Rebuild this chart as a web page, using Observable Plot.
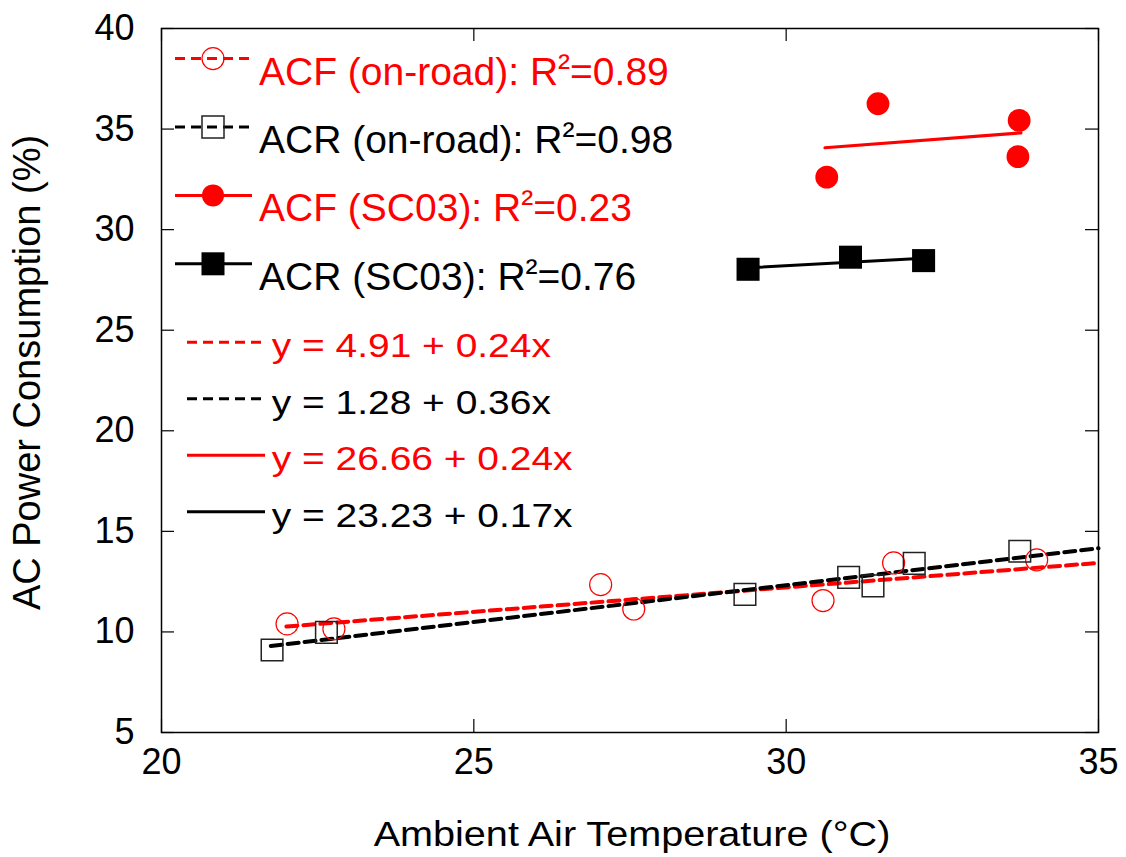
<!DOCTYPE html>
<html>
<head>
<meta charset="utf-8">
<script src="https://cdn.jsdelivr.net/npm/d3@7"></script>
<script src="https://cdn.jsdelivr.net/npm/@observablehq/plot@0.6"></script>
<style>
html, body { margin: 0; padding: 0; background: #fff; }
#chart svg { display: block; }
</style>
</head>
<body>
<div id="chart"></div>
<script>
// ---------- data ----------
const xTicks = [20, 25, 30, 35];
const yTicks = [5, 10, 15, 20, 25, 30, 35, 40];

// ACF on-road (open red circles)
const acfRoadT = [22.01, 22.76, 27.03, 27.56, 30.59, 31.72, 34.01];
const acfRoadP = [10.40, 10.15, 12.35, 11.14, 11.56, 13.43, 13.58];
// ACR on-road (open black squares)
const acrRoadT = [21.77, 22.64, 29.34, 31.00, 31.39, 32.05, 33.74];
const acrRoadP = [9.10, 9.98, 11.87, 12.71, 12.29, 13.41, 14.01];
// ACF SC03 (filled red circles)
const acfScT = [30.65, 31.47, 33.73, 33.71];
const acfScP = [32.61, 36.26, 35.43, 33.63];
// ACR SC03 (filled black squares)
const acrScT = [29.39, 31.03, 32.20];
const acrScP = [28.03, 28.63, 28.46];

// fitted lines, end points as drawn in the reference
const acfRoadFitT = [22.0, 35.0];
const acfRoadFitP = [10.27, 13.43];
const acrRoadFitT = [21.75, 35.0];
const acrRoadFitP = [9.30, 14.16];
const acfScFitT = [30.62, 33.76];
const acfScFitP = [34.07, 34.81];
const acrScFitT = [29.39, 32.20];
const acrScFitP = [28.10, 28.58];

const seriesLabels = [
  "ACF (on-road): R\u00b2=0.89",
  "ACR (on-road): R\u00b2=0.98",
  "ACF (SC03): R\u00b2=0.23",
  "ACR (SC03): R\u00b2=0.76"
];
const equationLabels = [
  "y = 4.91 + 0.24x",
  "y = 1.28 + 0.36x",
  "y = 26.66 + 0.24x",
  "y = 23.23 + 0.17x"
];
const xTitle = "Ambient Air Temperature (\u00b0C)";
const yTitle = "AC Power Consumption (%)";

// ---------- layout & style ----------
const W = 1126, H = 857;
const mL = 161, mR = 28, mT = 28, mB = 125;
const plotW = W - mL - mR, plotH = H - mT - mB;
const RED = "#ff0000", BLACK = "#000000";
const FONT = "'Liberation Sans', Arial, Helvetica, sans-serif";
const TICK = 13;

const rows = (T, P) => T.map((t, i) => ({t, p: P[i]}));

const chart = Plot.plot({
  width: W,
  height: H,
  marginLeft: mL,
  marginRight: mR,
  marginTop: mT,
  marginBottom: mB,
  style: {fontFamily: FONT, background: "#fff", color: "#000", overflow: "visible"},
  x: {domain: [20, 35]},
  y: {domain: [5, 40]},
  marks: [
    Plot.line(rows(acfRoadFitT, acfRoadFitP), {x: "t", y: "p", stroke: RED, strokeWidth: 4, strokeDasharray: "11,6"}),
    Plot.line(rows(acrRoadFitT, acrRoadFitP), {x: "t", y: "p", stroke: BLACK, strokeWidth: 4, strokeDasharray: "11,6"}),
    Plot.line(rows(acfScFitT, acfScFitP), {x: "t", y: "p", stroke: RED, strokeWidth: 3}),
    Plot.line(rows(acrScFitT, acrScFitP), {x: "t", y: "p", stroke: BLACK, strokeWidth: 3}),
    Plot.dot(rows(acfRoadT, acfRoadP), {x: "t", y: "p", r: 11, stroke: RED, strokeWidth: 1.2, fill: "none"}),
    Plot.dot(rows(acrRoadT, acrRoadP), {x: "t", y: "p", symbol: "square", r: 12.2, stroke: "#222", strokeWidth: 1.5, fill: "none"}),
    Plot.dot(rows(acfScT, acfScP), {x: "t", y: "p", r: 11.4, fill: RED, stroke: "none"}),
    Plot.dot(rows(acrScT, acrScP), {x: "t", y: "p", symbol: "square", r: 13, fill: BLACK, stroke: "none"}),
    Plot.frame({stroke: BLACK, strokeWidth: 1.5}),
    Plot.tickX(xTicks, {x: d => d, insetTop: plotH - TICK, stroke: BLACK, strokeWidth: 1.2}),
    Plot.tickX(xTicks, {x: d => d, insetBottom: plotH - TICK, stroke: BLACK, strokeWidth: 1.2}),
    Plot.tickY(yTicks, {y: d => d, insetRight: plotW - TICK, stroke: BLACK, strokeWidth: 1.2}),
    Plot.tickY(yTicks, {y: d => d, insetLeft: plotW - TICK, stroke: BLACK, strokeWidth: 1.2}),
    Plot.axisX({ticks: xTicks, tickSize: 0, tickPadding: 16, fontSize: 36, label: null, tickFormat: d => String(d)}),
    Plot.axisY({ticks: yTicks, tickSize: 0, tickPadding: 27, fontSize: 36, label: null, tickFormat: d => String(d)}),
    Plot.text([xTitle], {text: d => d, frameAnchor: "bottom", textAnchor: "middle", lineAnchor: "bottom", dy: 113, dx: 2, fontSize: 36}),
    Plot.text([yTitle], {text: d => d, frameAnchor: "left", textAnchor: "middle", lineAnchor: "bottom", rotate: -90, dx: -122, dy: -8, fontSize: 38})
  ]
});
document.getElementById("chart").appendChild(chart);

// horizontal stretch helper (the reference's x title is drawn wider)
function stretchText(content, k) {
  d3.select(chart).selectAll("text").filter(function () { return this.textContent === content; }).each(function () {
    const el = this;
    let t = el.getAttribute("transform") || "";
    if (el.hasAttribute("x") || el.hasAttribute("y")) {
      const x = +el.getAttribute("x") || 0, y = +el.getAttribute("y") || 0;
      el.removeAttribute("x"); el.removeAttribute("y");
      t = `translate(${x},${y}) ` + t;
    }
    el.setAttribute("transform", t + ` scale(${k},1)`);
  });
}
stretchText(xTitle, 1.1);

// ---------- in-plot legend ----------
const svg = d3.select(chart);
const leg = svg.append("g").attr("font-family", FONT).attr("text-anchor", "start");
const seriesStyle = [
  {color: RED, dash: "10,6", marker: "circle", filled: false},
  {color: BLACK, dash: "10,6", marker: "square", filled: false},
  {color: RED, dash: null, marker: "circle", filled: true},
  {color: BLACK, dash: null, marker: "square", filled: true}
];
const legTop = 58.6, legStep = 68.4;
const legX0 = 175, legX1 = 252, legMarkX = 213, legTextX = 259;
const SUP_RAISE = 6;
seriesLabels.forEach((label, i) => {
  const s = seriesStyle[i];
  const y = legTop + i * legStep;
  leg.append("line")
    .attr("x1", legX0).attr("x2", legX1).attr("y1", y).attr("y2", y)
    .attr("stroke", s.color).attr("stroke-width", 3)
    .attr("stroke-dasharray", s.dash);
  if (s.marker === "circle") {
    leg.append("circle").attr("cx", legMarkX).attr("cy", y).attr("r", 11)
      .attr("fill", s.filled ? s.color : "none")
      .attr("stroke", s.filled ? "none" : s.color).attr("stroke-width", 1.2);
  } else {
    const side = s.filled ? 23 : 22;
    leg.append("rect").attr("x", legMarkX - side / 2).attr("y", y - side / 2)
      .attr("width", side).attr("height", side)
      .attr("fill", s.filled ? s.color : "none")
      .attr("stroke", s.filled ? "none" : "#222").attr("stroke-width", 1.5);
  }
  const t = leg.append("text").attr("x", legTextX).attr("y", y + 26)
    .attr("text-anchor", "start")
    .attr("font-size", 39).attr("fill", s.color);
  const [pre, post] = label.split("\u00b2");
  t.append("tspan").text(pre);
  t.append("tspan").attr("dy", -SUP_RAISE).attr("font-size", 36).text("\u00b2");
  t.append("tspan").attr("dy", SUP_RAISE).text(post);
});

const eqStyle = [
  {color: RED, dash: "10,6"},
  {color: BLACK, dash: "10,6"},
  {color: RED, dash: null},
  {color: BLACK, dash: null}
];
const eqTop = 342.3, eqStep = 56.5;
const eqX0 = 187, eqX1 = 265, eqTextX = 271.7;
equationLabels.forEach((label, i) => {
  const s = eqStyle[i];
  const y = eqTop + i * eqStep;
  leg.append("line")
    .attr("x1", eqX0).attr("x2", eqX1).attr("y1", y).attr("y2", y)
    .attr("stroke", s.color).attr("stroke-width", 3)
    .attr("stroke-dasharray", s.dash);
  leg.append("text")
    .attr("transform", `translate(${eqTextX},${y + 15}) scale(1.18,1)`)
    .attr("text-anchor", "start")
    .attr("font-size", 33).attr("fill", s.color).text(label);
});
</script>
</body>
</html>
